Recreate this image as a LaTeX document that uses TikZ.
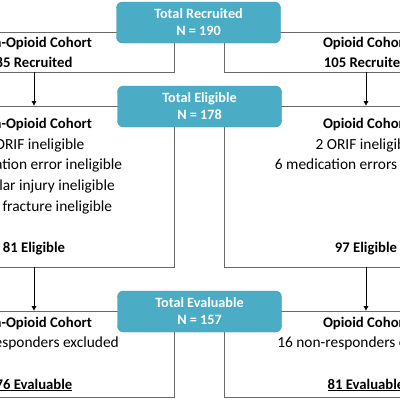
\documentclass[tikz,border=0pt]{standalone}
\usepackage{fontspec}
\setmainfont{Carlito}
\usetikzlibrary{arrows.meta,positioning}
\definecolor{totalblue}{RGB}{75,172,198}
\definecolor{totaledge}{RGB}{66,152,178}
\definecolor{framegray}{RGB}{105,105,105}
\newcommand{\hd}[1]{{\fontsize{14.7}{20.6}\selectfont\bfseries #1}}

\begin{document}
\begin{tikzpicture}[x=1pt, y=-1pt,
    cohort/.style={draw=framegray, line width=0.8pt, minimum width=284pt, align=center, inner sep=0pt, font=\fontsize{15.4}{20.6}\selectfont},
    leftcohort/.style={cohort, minimum width=280pt},
    total/.style={draw=totaledge, fill=totalblue, rounded corners=6pt, minimum width=164pt, minimum height=41pt, inner sep=0pt, align=center, text=white, font=\bfseries\fontsize{14.2}{17}\selectfont},
    arr/.style={-{Triangle[length=4.5pt, width=4.5pt]}, line width=0.8pt}
]
\useasboundingbox (0,0) rectangle (400,400);
\fill[white] (0,0) rectangle (400,400);
\clip (0,0) rectangle (400,400);

% cohort boxes
\node[leftcohort, minimum height=40pt] (recl) at (34,52) {\hd{Non-Opioid Cohort}\\[-0.6pt]\hd{85 Recruited}};
\node[cohort, minimum height=40pt] (recr) at (366,52) {\hd{Opioid Cohort}\\[-0.6pt]\hd{105 Recruited}};
\node[leftcohort, minimum height=161pt] (elgl) at (34,186.5) {\hd{Non-Opioid Cohort}\\1 ORIF ineligible\\1 medication error ineligible\\1 vascular injury ineligible\\1 open fracture ineligible\\[20.6pt]\hd{81 Eligible}};
\node[cohort, minimum height=161pt] (elgr) at (366,186.5) {\hd{Opioid Cohort}\\2 ORIF ineligible\\6 medication errors ineligible\\[61.8pt]\hd{97 Eligible}};
\node[leftcohort, minimum height=86pt] (evll) at (34,354) {\hd{Non-Opioid Cohort}\\5 non-responders excluded\\[20.6pt]\hd{\underline{76 Evaluable}}};
\node[cohort, minimum height=86pt] (evlr) at (366,354) {\hd{Opioid Cohort}\\16 non-responders excluded\\[20.6pt]\hd{\underline{81 Evaluable}}};

% totals
\node[total] (recruited) at (198.5,22.5) {Total Recruited\\N = 190};
\node[total] (eligible) at (199.5,106.5) {Total Eligible\\N = 178};
\node[total] (evaluable) at (199.5,311.5) {Total Evaluable\\N = 157};

\draw[arr] (recl.south) -- (elgl.north);
\draw[arr] (recr.south) -- (elgr.north);
\draw[arr] (elgl.south) -- (evll.north);
\draw[arr] (elgr.south) -- (evlr.north);
\end{tikzpicture}
\end{document}
